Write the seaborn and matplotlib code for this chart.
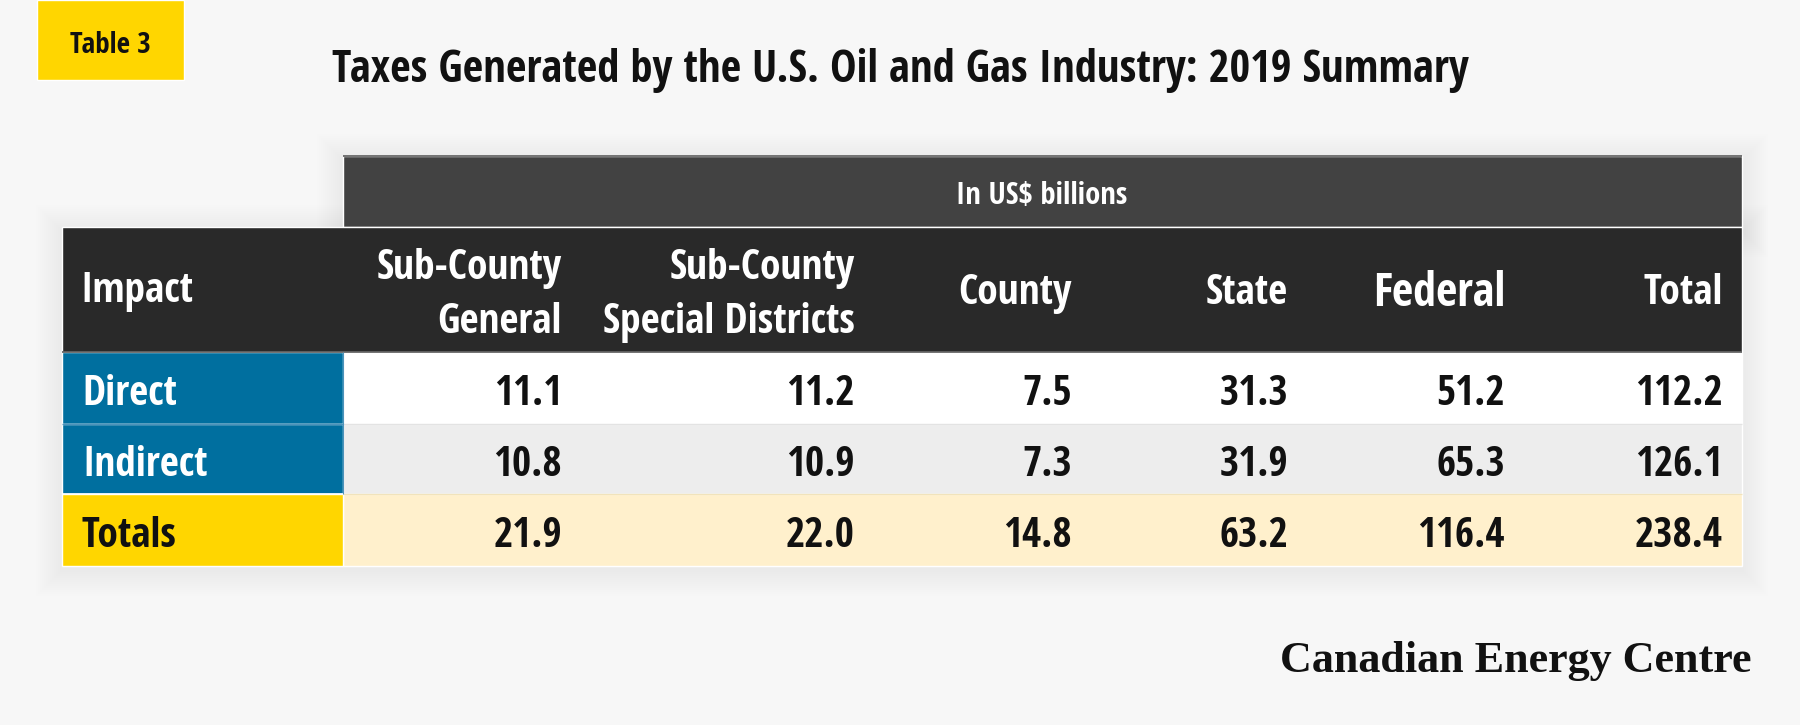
import warnings
import matplotlib
matplotlib.use("Agg")
import matplotlib.pyplot as plt
import matplotlib.font_manager as fm
from matplotlib.patches import Rectangle
import seaborn as sns

warnings.filterwarnings("ignore")

# ── Data ──────────────────────────────────────────────────────────────────────
TAG = "Table 3"
TITLE = "Taxes Generated by the U.S. Oil and Gas Industry: 2019 Summary"
UNIT_LABEL = "In US$ billions"
SOURCE = "Canadian Energy Centre"
FIRST_HEADER = "Impact"
COLUMNS = ["Sub-County\nGeneral", "Sub-County\nSpecial Districts", "County",
           "State", "Federal", "Total"]
IMPACTS = ["Direct", "Indirect", "Totals"]
DIRECT = [11.1, 11.2, 7.5, 31.3, 51.2, 112.2]
INDIRECT = [10.8, 10.9, 7.3, 31.9, 65.3, 126.1]
TOTALS = [21.9, 22.0, 14.8, 63.2, 116.4, 238.4]

# ── Style ─────────────────────────────────────────────────────────────────────
sns.set_theme(style="white")
plt.rcParams["font.family"] = ["DejaVu Sans"]

BG = "#f7f7f7"
YELLOW = "#ffd600"
BLUE = "#006f9f"
DARK = "#292929"
BAND = "#424242"
ROW_COLORS = ["#ffffff", "#ededed", "#fff0cc"]
LABEL_COLORS = [BLUE, BLUE, YELLOW]
LABEL_TEXT = ["white", "white", "#111111"]

# layout in pixels (figure is 1800 x 725)
W, H = 1800, 725
TAB_L, TAB_R, LAB_R = 62, 1742, 343
BAND_T, HEAD_T, BODY_T = 156, 227, 352
ROW_EDGES = [352, 424, 494, 566]
COL_RIGHT = [562, 855, 1072, 1288, 1505, 1723]

SANS_FAMILIES = ("Liberation Sans", "DejaVu Sans", "Roboto", "Open Sans",
                 "Noto Sans", "Lato", "Inter")
SERIF_FAMILIES = ("Liberation Serif", "DejaVu Serif", "Noto Serif")


# ── Fonts: pick the narrowest bold face among the usual families ──────────────
def em_metrics(fname, s):
    ft = fm.get_font(fname)
    ft.set_size(100, 72)
    ft.set_text(s, 0.0)
    w, _ = ft.get_width_height()
    ft.set_text("H", 0.0)
    _, h = ft.get_width_height()
    return w / 6400.0, h / 6400.0


def pick_font(families):
    best = None
    for f in fm.fontManager.ttflist:
        n = f.name
        if not n.startswith(families) or "mpl-data" in f.fname:
            continue
        if any(k in n for k in ("Mono", "CJK", "Math", "Symbol", "Emoji", "SC", "Display")):
            continue
        if f.style != "normal":
            continue
        w = f.weight if isinstance(f.weight, (int, float)) else fm.weight_dict.get(f.weight, 400)
        if w < 600 or w > 800:
            continue
        try:
            tw, cap = em_metrics(f.fname, "Special Districts 112.2")
        except Exception:
            continue
        if tw <= 0.5 or cap <= 0.4:
            continue
        key = tw / cap
        if best is None or key < best[0]:
            best = (key, f.fname)
    if best is None:
        return fm.findfont(fm.FontProperties(family=families[0], weight="bold"))
    return best[1]


SANS = pick_font(SANS_FAMILIES)
SERIF = pick_font(SERIF_FAMILIES)


def size_for(fname, s, width_px, cap_px):
    tw, cap = em_metrics(fname, s)
    px = min(width_px / tw, cap_px / cap)
    return px * 72 / 100


def put(ax, x, cy, s, fname, size, color, ha):
    _, cap = em_metrics(fname, "H")
    cap_px = cap * size * 100 / 72
    prop = fm.FontProperties(fname=fname, size=size)
    return ax.text(x, cy + cap_px / 2, s, fontproperties=prop, color=color,
                   ha=ha, va="baseline", zorder=5)


# ── Figure ────────────────────────────────────────────────────────────────────
fig = plt.figure(figsize=(18, 7.25), dpi=100, facecolor=BG)
ax = fig.add_axes([0, 0, 1, 1])
ax.set_facecolor(BG)

# soft drop shadow behind the table
for i in range(1, 14):
    pad = i * 2.0
    for (x0, y0, x1, y1) in [(LAB_R, BAND_T, TAB_R, HEAD_T), (TAB_L, HEAD_T, TAB_R, ROW_EDGES[-1])]:
        ax.add_patch(Rectangle((x0 - pad, y0 - pad + 4), x1 - x0 + 2 * pad, y1 - y0 + 2 * pad,
                               facecolor="black", alpha=0.0055, lw=0, zorder=0))

# tag box
ax.barh([40], [147], left=37, height=80, color=YELLOW, zorder=1)

# header band and header
ax.barh([(BAND_T + HEAD_T) / 2], [TAB_R - LAB_R], left=LAB_R, height=HEAD_T - BAND_T,
        color=BAND, zorder=1)
ax.barh([(HEAD_T + BODY_T) / 2], [TAB_R - TAB_L], left=TAB_L, height=BODY_T - HEAD_T,
        color=DARK, zorder=1)

# body rows
centers = [(a + b) / 2 for a, b in zip(ROW_EDGES[:-1], ROW_EDGES[1:])]
heights = [b - a for a, b in zip(ROW_EDGES[:-1], ROW_EDGES[1:])]
ax.barh(centers, [TAB_R - LAB_R] * 3, left=LAB_R, height=heights, color=ROW_COLORS, zorder=1)
ax.barh(centers, [LAB_R - TAB_L] * 3, left=TAB_L, height=heights, color=LABEL_COLORS, zorder=1)

# thin rules
ax.hlines(BAND_T, LAB_R, TAB_R, color="#5c5c5c", lw=1.2, zorder=2)
ax.hlines(BODY_T, TAB_L, TAB_R, color="#5a5a5a", lw=1.2, zorder=2)
ax.hlines(ROW_EDGES[1], TAB_L, LAB_R, color="#4d93bb", lw=1.0, zorder=2)
ax.hlines(ROW_EDGES[2], TAB_L, LAB_R, color="white", lw=1.2, zorder=2)
ax.hlines(ROW_EDGES[1], LAB_R, TAB_R, color="#e3e3e3", lw=1.0, zorder=2)
ax.hlines(ROW_EDGES[2], LAB_R, TAB_R, color="#f1e3bb", lw=1.0, zorder=2)
ax.vlines(LAB_R, ROW_EDGES[0], ROW_EDGES[2], color="#4d93bb", lw=0.8, zorder=2)

# ── Texts ─────────────────────────────────────────────────────────────────────
tag_size = size_for(SANS, TAG, 105, 21)
put(ax, 110, 42, TAG, SANS, tag_size, "#111111", "center")

title_size = size_for(SANS, TITLE, 1137, 39)
put(ax, 900, 66, TITLE, SANS, title_size, "#111111", "center")

unit_size = size_for(SANS, UNIT_LABEL, 171, 25)
put(ax, 1042, 193, UNIT_LABEL, SANS, unit_size, "white", "center")

cell_size = size_for(SANS, "Special Districts", 252, 33)
put(ax, 80, 287, FIRST_HEADER, SANS, cell_size, "white", "left")
for xr, col in zip(COL_RIGHT, COLUMNS):
    lines = col.split("\n")
    if len(lines) == 2:
        put(ax, xr, 264, lines[0], SANS, cell_size, "white", "right")
        put(ax, xr, 318, lines[1], SANS, cell_size, "white", "right")
    else:
        sz = cell_size * (1.12 if col == "Federal" else 1.0)
        put(ax, xr, 289, col, SANS, sz, "white", "right")

for cy, label, tcol, vals in zip(centers, IMPACTS, LABEL_TEXT, [DIRECT, INDIRECT, TOTALS]):
    put(ax, 82, cy + 2, label, SANS, cell_size, tcol, "left")
    for xr, v in zip(COL_RIGHT, vals):
        put(ax, xr, cy + 2, f"{v:.1f}", SANS, cell_size, "#111111", "right")

src_size = size_for(SERIF, SOURCE, 473, 31)
put(ax, 1751, 658, SOURCE, SERIF, src_size, "#111111", "right")

ax.set_xlim(0, W)
ax.set_ylim(H, 0)
ax.axis("off")

fig.savefig("out.png", dpi=100, facecolor=BG)
